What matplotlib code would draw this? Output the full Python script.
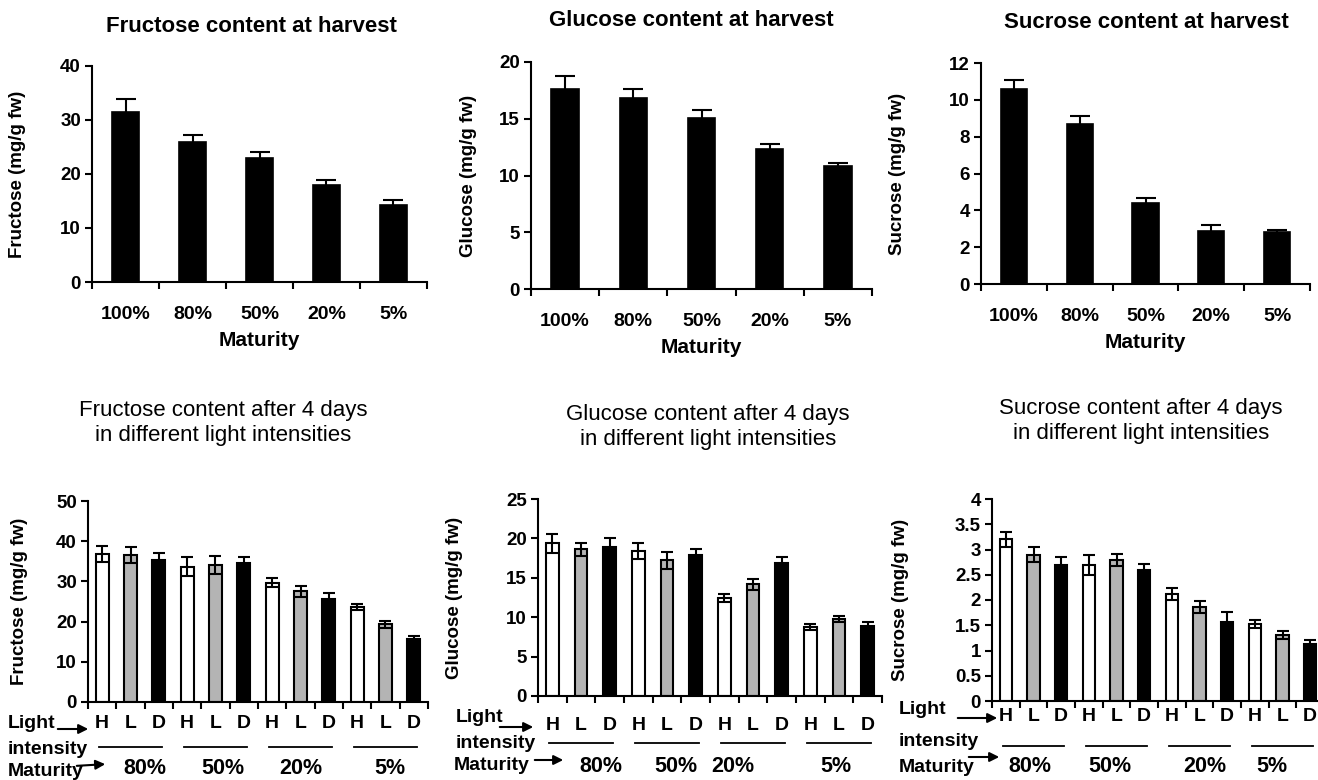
import matplotlib
matplotlib.use("Agg")
import matplotlib.pyplot as plt
import matplotlib.transforms as mtransforms
import numpy as np

# ---------------- data ----------------
maturity = ["100%", "80%", "50%", "20%", "5%"]
fructose_harvest = [31.5, 26.0, 23.0, 18.0, 14.3]
fructose_harvest_err = [2.3, 1.3, 1.1, 0.8, 0.8]
glucose_harvest = [17.6, 16.8, 15.1, 12.3, 10.8]
glucose_harvest_err = [1.2, 0.8, 0.7, 0.5, 0.3]
sucrose_harvest = [10.6, 8.7, 4.4, 2.9, 2.8]
sucrose_harvest_err = [0.5, 0.4, 0.25, 0.3, 0.15]

light = ["H", "L", "D"]
maturity_groups = ["80%", "50%", "20%", "5%"]
fructose_4d = [36.8, 36.5, 35.3, 33.7, 34.1, 34.6, 29.7, 27.5, 25.7, 23.7, 19.3, 15.7]
fructose_4d_err = [2.0, 2.0, 1.8, 2.3, 2.3, 1.4, 1.2, 1.3, 1.5, 0.8, 0.9, 0.6]
glucose_4d = [19.4, 18.6, 18.9, 18.4, 17.2, 17.9, 12.4, 14.2, 16.9, 8.8, 9.8, 8.9]
glucose_4d_err = [1.2, 0.8, 1.1, 1.0, 1.1, 0.7, 0.5, 0.7, 0.7, 0.4, 0.4, 0.5]
sucrose_4d = [3.2, 2.9, 2.7, 2.7, 2.8, 2.6, 2.12, 1.87, 1.57, 1.52, 1.31, 1.13]
sucrose_4d_err = [0.15, 0.15, 0.15, 0.2, 0.12, 0.12, 0.12, 0.12, 0.2, 0.08, 0.08, 0.08]

# ---------------- layout ----------------
W, H = 1318, 780
plt.rcParams['font.family'] = ['Liberation Sans', 'DejaVu Sans']
fig = plt.figure(figsize=(W / 100, H / 100), dpi=100)

def rect(l, t, r, b):
    return [l / W, 1 - b / H, (r - l) / W, (b - t) / H]

def ftext(x, y, s, **kw):
    fig.text(x / W, 1 - y / H, s, **kw)

def farrow(x0, y0, x1, y1):
    fig.add_artist(matplotlib.patches.FancyArrowPatch(
        (x0 / W, 1 - y0 / H), (x1 / W, 1 - y1 / H), transform=fig.transFigure,
        arrowstyle='-|>', mutation_scale=14, color='black', lw=1.5))

GRAY = '#b4b4b4'
SPINE_LW = 1.5

def style_axes(ax, ylim, ystep, yfmt=None, ytick_size=13.5):
    for s in ['top', 'right']:
        ax.spines[s].set_visible(False)
    for s in ['left', 'bottom']:
        ax.spines[s].set_linewidth(SPINE_LW)
    ax.set_ylim(*ylim)
    ticks = np.arange(ylim[0], ylim[1] + ystep / 2, ystep)
    ax.set_yticks(ticks)
    if yfmt:
        ax.set_yticklabels([yfmt(t) for t in ticks])
    ax.tick_params(axis='y', direction='out', length=5, width=SPINE_LW,
                   labelsize=ytick_size, pad=3)
    for lab in ax.get_yticklabels():
        lab.set_fontweight('bold')

def top_panel(box, vals, errs, ylim, ystep, title, title_xy, ylabel, ylabel_x):
    ax = fig.add_axes(rect(*box))
    x = np.arange(len(vals))
    ax.bar(x, vals, width=0.4, color='black', edgecolor='black', linewidth=1.2, zorder=2)
    ax.errorbar(x, vals, yerr=errs, fmt='none', ecolor='black', elinewidth=1.5,
                capsize=7, capthick=1.5, zorder=3)
    ax.set_xlim(-0.5, len(vals) - 0.5)
    style_axes(ax, ylim, ystep)
    ax.set_xticks(x)
    ax.set_xticklabels(maturity, fontsize=14, fontweight='bold')
    ax.set_xticks(np.arange(-0.5, len(vals)), minor=True)
    ax.tick_params(axis='x', which='major', length=0, pad=17)
    ax.tick_params(axis='x', which='minor', length=5, width=SPINE_LW, direction='out')
    ax.set_xlabel('Maturity', fontsize=15, fontweight='bold', labelpad=6)
    ax.set_ylabel(ylabel, fontsize=13.5, fontweight='bold')
    l, t, r, b = box
    ax.yaxis.set_label_coords(ylabel_x / W, 1 - (t + b) / 2 / H, transform=fig.transFigure)
    ftext(title_xy[0], title_xy[1], title, fontsize=16, fontweight='bold',
          ha='center', va='center')
    return ax

def bottom_panel(box, vals, errs, ylim, ystep, title_lines, title_xy, ylabel, ylabel_x,
                 label_pad, uline_dy, pct_dy, pct_offsets, yfmt=None):
    ax = fig.add_axes(rect(*box))
    n = len(vals)
    x = np.arange(n)
    colors = (['white', GRAY, 'black'] * len(maturity_groups))[:n]
    ax.bar(x, vals, width=0.45, color=colors, edgecolor='black', linewidth=1.5, zorder=2)
    ax.errorbar(x, vals, yerr=errs, fmt='none', ecolor='black', elinewidth=1.5,
                capsize=4.5, capthick=1.5, zorder=3)
    ax.set_xlim(-0.5, 11.5)
    style_axes(ax, ylim, ystep, yfmt)
    ax.set_xticks(x)
    ax.set_xticklabels(light * len(maturity_groups), fontsize=14, fontweight='bold')
    ax.set_xticks(np.arange(-0.5, 12), minor=True)
    ax.tick_params(axis='x', which='major', length=0, pad=label_pad)
    ax.tick_params(axis='x', which='minor', length=5, width=SPINE_LW, direction='out')
    ax.set_ylabel(ylabel, fontsize=13.5, fontweight='bold')
    l, t, r, b = box
    ax.yaxis.set_label_coords(ylabel_x / W, 1 - (t + b) / 2 / H, transform=fig.transFigure)
    hpx = b - t
    trans = mtransforms.blended_transform_factory(ax.transData, ax.transAxes)
    for g, name in enumerate(maturity_groups):
        x0, x1 = 3 * g - 0.1, 3 * g + 2 + 0.1
        ax.plot([x0, x1], [-uline_dy / hpx] * 2, color='black', lw=1.3,
                transform=trans, clip_on=False)
        ax.text(3 * g + 1 + pct_offsets[g], -pct_dy / hpx, name, transform=trans,
                ha='center', va='center', fontsize=15.5, fontweight='bold')
    ftext(title_xy[0], title_xy[1], "\n".join(title_lines), fontsize=16,
          ha='center', va='center', linespacing=1.2)
    return ax

# top row
top_panel((92, 66, 427, 282), fructose_harvest, fructose_harvest_err, (0, 40), 10,
          'Fructose content at harvest', (251, 26), 'Fructose (mg/g fw)', 26)
top_panel((531, 62, 872, 289), glucose_harvest, glucose_harvest_err, (0, 20), 5,
          'Glucose content at harvest', (691, 21), 'Glucose (mg/g fw)', 477)
top_panel((981, 63, 1310, 284), sucrose_harvest, sucrose_harvest_err, (0, 12), 2,
          'Sucrose content at harvest', (1146, 23), 'Sucrose (mg/g fw)', 906)

# bottom row
bottom_panel((88, 501, 428, 702), fructose_4d, fructose_4d_err, (0, 50), 10,
             ['Fructose content after 4 days', 'in different light intensities'],
             (223, 423), 'Fructose (mg/g fw)', 28,
             label_pad=9, uline_dy=45, pct_dy=67, pct_offsets=[0.5, 0.26, 0.0, 0.16])
bottom_panel((538, 499, 882, 696), glucose_4d, glucose_4d_err, (0, 25), 5,
             ['Glucose content after 4 days', 'in different light intensities'],
             (708, 427), 'Glucose (mg/g fw)', 463,
             label_pad=15, uline_dy=47, pct_dy=70, pct_offsets=[0.7, 0.3, -0.7, -0.1])
bottom_panel((992, 499, 1324, 701), sucrose_4d, sucrose_4d_err, (0, 4), 0.5,
             ['Sucrose content after 4 days', 'in different light intensities'],
             (1141, 421), 'Sucrose (mg/g fw)', 909,
             label_pad=5, uline_dy=45, pct_dy=66, pct_offsets=[-0.13, -0.25, 0.2, -0.4],
             yfmt=lambda v: f'{v:g}')

# left-side annotations of the bottom row
lab = dict(fontsize=14, fontweight='bold', ha='left', va='center')
ftext(8, 723, 'Light', **lab)
ftext(8, 749, 'intensity', **lab)
ftext(8, 771, 'Maturity', **lab)
farrow(55, 729, 91, 729)
farrow(74, 766, 108, 764)

ftext(456, 718, 'Light', **lab)
ftext(456, 743, 'intensity', **lab)
ftext(454, 766, 'Maturity', **lab)
farrow(497, 727, 536, 727)
farrow(532, 760, 566, 760)

ftext(899, 710, 'Light', **lab)
ftext(899, 741, 'intensity', **lab)
ftext(899, 767, 'Maturity', **lab)
farrow(955, 718, 1000, 718)
farrow(966, 757, 1002, 757)

fig.savefig('out.png', dpi=100)
